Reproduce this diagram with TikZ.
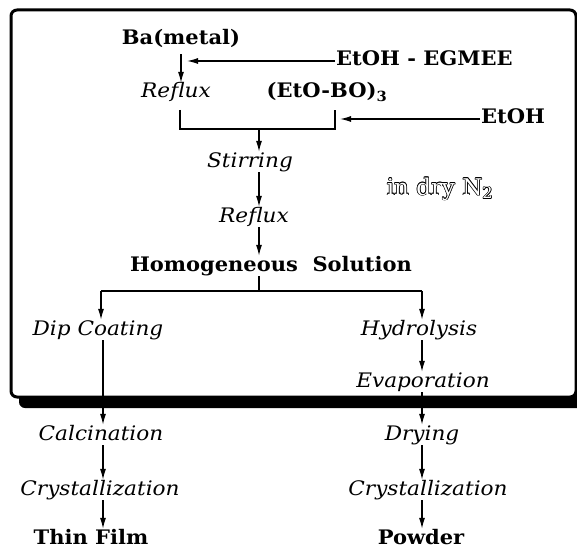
\documentclass[tikz,border=0pt]{standalone}
\usepackage{fontspec}
\setmainfont{DejaVu Serif}
\usetikzlibrary{arrows.meta}
\newcommand\hs[1]{\scalebox{1.05}[1]{#1}}
\newcommand\hi[1]{\scalebox{1.08}[1]{#1}}
\newcommand\hollow[1]{\leavevmode
  \rlap{\hspace{-0.7pt}#1}\rlap{\hspace{0.7pt}#1}%
  \rlap{\raisebox{0.7pt}{#1}}\rlap{\raisebox{-0.7pt}{#1}}%
  \rlap{\hspace{0.5pt}\raisebox{0.5pt}{#1}}\rlap{\hspace{-0.5pt}\raisebox{-0.5pt}{#1}}%
  \rlap{\hspace{0.5pt}\raisebox{-0.5pt}{#1}}\rlap{\hspace{-0.5pt}\raisebox{0.5pt}{#1}}%
  \textcolor{white}{#1}}
\tikzset{
  bt/.style={font=\bfseries\fontsize{20}{24}\selectfont, inner sep=1pt, text height=14pt, text depth=4pt},
  it/.style={font=\itshape\fontsize{20}{24}\selectfont, inner sep=1pt, text height=14pt, text depth=4pt},
  conn/.style={line width=1.3pt},
  arr/.style={conn, -{Latex[length=11pt,width=6pt]}},
  box/.style={line width=3pt, rounded corners=6pt, fill=white}
}
\begin{document}
\begin{tikzpicture}[x=1pt,y=-1pt]
\useasboundingbox (0,0) rectangle (577,548);
\begin{scope}
  \clip (0,0) rectangle (577,548);
  \fill[rounded corners=6pt] (19,20) rectangle (590,408);
  \draw[box] (11,10) rectangle (576,397);
\end{scope}

\node[bt] (ba) at (181,40) {\hs{Ba(metal)}};
\node[bt,anchor=west] (egmee) at (335,61) {\hs{EtOH - EGMEE}};
\node[it] (rf1) at (176,93) {\hi{Reflux}};
\node[bt] (etobo) at (327,93) {\hs{(EtO-BO)\textsubscript{3}}};
\node[bt,anchor=west] (etoh) at (480,119) {\hs{EtOH}};
\node[it] (stir) at (250,162) {\hi{Stirring}};
\node (n2) at (440,189) {\fontsize{23}{26}\selectfont\hollow{in dry N\textsubscript{2}}};
\node[it] (rf2) at (254,217) {\hi{Reflux}};
\node[bt] (hom) at (271,266) {\hs{Homogeneous\ \ Solution}};
\node[it] (dip) at (98,330) {\hi{Dip Coating}};
\node[it] (hyd) at (419,330) {\hi{Hydrolysis}};
\node[it] (eva) at (423,382) {\hi{Evaporation}};
\node[it] (cal) at (101,435) {\hi{Calcination}};
\node[it] (dry) at (422,435) {\hi{Drying}};
\node[it] (cr1) at (100,490) {\hi{Crystallization}};
\node[it] (cr2) at (428,490) {\hi{Crystallization}};
\node[bt] (thin) at (91,539) {\hs{Thin Film}};
\node[bt] (pow) at (421,539) {\hs{Powder}};

\coordinate (bl) at (180,129);
\coordinate (br) at (335,129);
\coordinate (bm) at (259,129);
\coordinate (blt) at (180,110);
\coordinate (brt) at (335,110);
\coordinate (sl) at (101,291);
\coordinate (sr) at (422,291);
\coordinate (sm) at (259,291);
\coordinate (lc) at (103,0);
\coordinate (rc) at (422,0);

\draw[arr, shorten <=4pt] (ba.south) -- (ba.south |- rf1.north);
\draw[arr, shorten >=6pt] (egmee.west) -- (ba.south |- egmee.west);
\draw[conn] (blt) -- (bl) -- (br) -- (brt);
\draw[arr, shorten >=5pt] (etoh.west) -- (brt |- etoh.west);
\draw[arr] (bm) -- (bm |- stir.north);
\draw[arr] (bm |- stir.south) -- (bm |- rf2.north);
\draw[arr] (bm |- rf2.south) -- (bm |- hom.north);
\draw[conn] (bm |- hom.south) -- (sm);
\draw[conn] (sl) -- (sr);
\draw[arr] (sl) -- (sl |- dip.north);
\draw[arr] (sr) -- (sr |- hyd.north);
\draw[arr] (lc |- dip.south) -- (lc |- cal.north);
\draw[arr] (rc |- hyd.south) -- (rc |- eva.north);
\draw[arr] (rc |- eva.south) -- (rc |- dry.north);
\draw[arr] (lc |- cal.south) -- (lc |- cr1.north);
\draw[arr] (rc |- dry.south) -- (rc |- cr2.north);
\draw[arr] (lc |- cr1.south) -- (lc |- thin.north);
\draw[arr] (rc |- cr2.south) -- (rc |- pow.north);
\end{tikzpicture}
\end{document}
